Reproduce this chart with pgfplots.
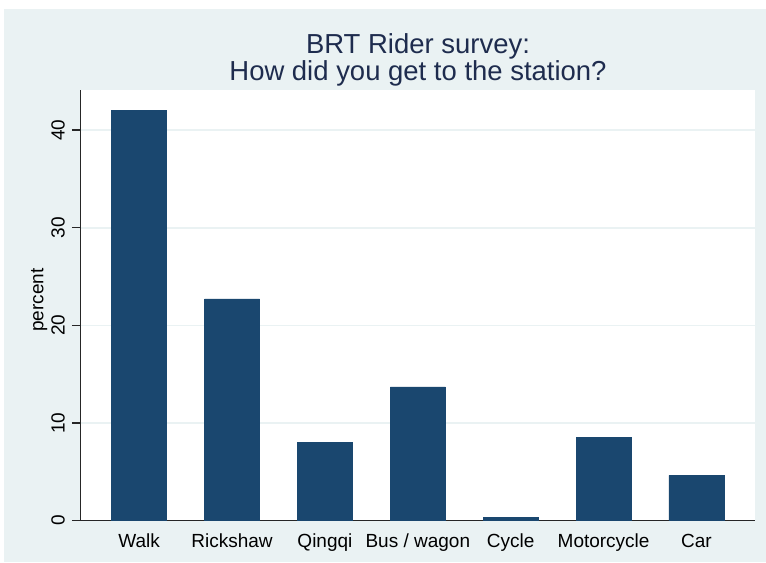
\documentclass[border=0pt]{standalone}
\usepackage{pgfplots}
\pgfplotsset{compat=1.18}
\usepackage{fontspec}
\setmainfont{Liberation Sans}
\definecolor{bgc}{HTML}{EAF2F3}
\definecolor{barc}{HTML}{1A476F}
\definecolor{titc}{HTML}{1E2C4E}
\definecolor{gridc}{HTML}{EAF2F3}
\begin{document}
\begin{tikzpicture}
% canvas: 1px = 0.75pt, origin top-left, y downward negative
\fill[white] (0pt,0pt) rectangle (574.5pt,-421.5pt);
\fill[bgc] (3pt,-6.75pt) rectangle (574.5pt,-421.5pt);
\begin{axis}[
  at={(60.5pt,-67.5pt)}, anchor=north west,
  scale only axis, width=505.75pt, height=323pt,
  axis background/.style={fill=white},
  xmin=-0.63, xmax=6.63, ymin=0, ymax=44.1,
  ybar, bar width=41.25pt,
  axis x line*=bottom, axis y line*=left,
  axis line style={line width=0.9pt, black!85, -},
  xtick=data,
  xticklabels={Walk,Rickshaw,Qingqi,Bus / wagon,Cycle,Motorcycle,Car},
  xtick style={draw=none},
  xticklabel style={font=\fontsize{14.25}{16}\selectfont, anchor=base, inner sep=0pt, yshift=-13.5pt},
  ytick={0,10,20,30,40},
  ytick style={line width=0.9pt, black!85},
  tick align=outside, major tick length=6.5pt,
  /pgf/number format/assume math mode=true,
  yticklabel style={font=\fontsize{14.25}{16}\selectfont, rotate=90, anchor=south, inner sep=0pt},
  yticklabel shift=5.25pt,
  ymajorgrids, grid style={gridc, line width=1.2pt},
  clip=false,
]
\addplot[fill=barc, draw=barc] coordinates {(0,42.0) (1,22.7) (2,8.0) (3,13.7) (4,0.35) (5,8.55) (6,4.65)};
\end{axis}
\node[rotate=90, anchor=base, inner sep=0pt, font=\fontsize{14.25}{16}\selectfont] at (32.5pt,-225pt) {percent};
\node[anchor=base, inner sep=0pt, text=titc, font=\fontsize{20.6}{23}\selectfont] at (313.5pt,-40pt) {BRT Rider survey:};
\node[anchor=base, inner sep=0pt, text=titc, font=\fontsize{20.6}{23}\selectfont] at (313.5pt,-60pt) {How did you get to the station?};
\end{tikzpicture}
\end{document}
